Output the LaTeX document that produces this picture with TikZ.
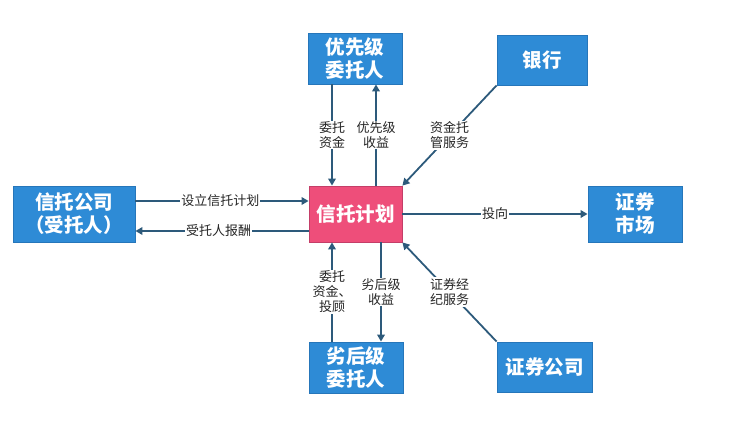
\documentclass[tikz,border=0pt]{standalone}
\usepackage{fontspec}
\setmainfont{Noto Sans CJK SC}
\usetikzlibrary{arrows.meta}

\definecolor{blu}{RGB}{46,139,214}
\definecolor{blubordo}{RGB}{38,118,186}
\definecolor{rosa}{RGB}{238,78,122}
\definecolor{rosabordo}{RGB}{196,62,104}
\definecolor{freccia}{RGB}{45,90,123}

\begin{document}
\begin{tikzpicture}[x=1pt, y=-1pt, thick]
	% Stili
	\tikzset{
		box/.style={rectangle, draw=blubordo, fill=blu, text=white, font=\fontsize{19.5}{23}\selectfont\bfseries, align=center, inner sep=0pt},
		piano/.style={box, draw=rosabordo, fill=rosa},
		freccia/.style={draw=freccia, line width=1.8pt, -{Triangle[length=7pt, width=7.5pt]}},
		etichetta/.style={fill=white, text=black!85, font=\fontsize{13}{15}\selectfont, align=center, inner sep=1pt}
	}
	
	% Margini della figura
	\useasboundingbox (0,0) rectangle (749,422);
	
	% Blocchi
	\node[piano, minimum width=93pt, minimum height=56pt] (piano) at (355.5,214) {信托计划};
	\node[box, minimum width=122pt, minimum height=56pt] (trust) at (74,214) {信托公司\\（受托人）};
	\node[box, minimum width=94pt, minimum height=51pt] (prior) at (355,58.5) {优先级\\委托人};
	\node[box, minimum width=90pt, minimum height=50pt] (banca) at (542,60) {银行};
	\node[box, minimum width=94pt, minimum height=56pt] (mercato) at (635,214) {证券\\市场};
	\node[box, minimum width=94pt, minimum height=51pt] (sub) at (356,367.5) {劣后级\\委托人};
	\node[box, minimum width=95pt, minimum height=50pt] (broker) at (544.5,367) {证券公司};
	
	% Frecce a sinistra
	\draw[freccia] ([yshift=13pt]trust.east) -- ([yshift=13pt]piano.west)
		node[etichetta, pos=0.49] {设立信托计划};
	\draw[freccia] ([yshift=-17pt]piano.west) -- ([yshift=-17pt]trust.east)
		node[etichetta, pos=0.52] {受托人报酬};
	
	% Frecce in alto
	\draw[freccia] ([xshift=-23pt]prior.south) -- ([xshift=-23.5pt]piano.north)
		node[etichetta, pos=0.5] {委托\\资金};
	\draw[freccia] ([xshift=20.5pt]piano.north) -- ([xshift=21pt]prior.south)
		node[etichetta, pos=0.5] {优先级\\收益};
	\draw[freccia] (banca.south west) -- (piano.north east)
		node[etichetta, pos=0.5] {资金托\\管服务};
	
	% Freccia a destra
	\draw[freccia] (piano.east) -- (mercato.west)
		node[etichetta, pos=0.5] {投向};
	
	% Frecce in basso
	\draw[freccia] ([xshift=-24pt]sub.north) -- ([xshift=-23.5pt]piano.south)
		node[etichetta, pos=0.5] {委托\\资金、\\投顾};
	\draw[freccia] ([xshift=25.5pt]piano.south) -- ([xshift=25pt]sub.north)
		node[etichetta, pos=0.5] {劣后级\\收益};
	\draw[freccia] (broker.north west) -- (piano.south east)
		node[etichetta, pos=0.5] {证券经\\纪服务};
\end{tikzpicture}
\end{document}
